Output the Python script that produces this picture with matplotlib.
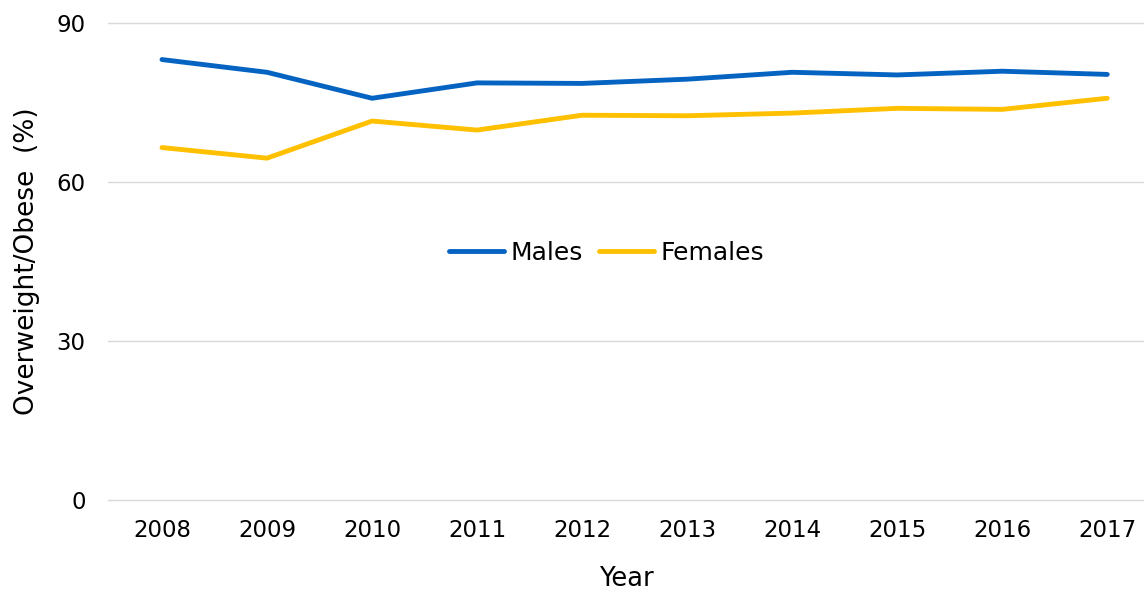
import numpy as np
import matplotlib.pyplot as plt

years = ['2008', '2009', '2010', '2011', '2012', '2013', '2014', '2015', '2016', '2017']
males = [83.1, 80.7, 75.8, 78.7, 78.6, 79.4, 80.7, 80.2, 80.9, 80.3]
females = [66.5, 64.5, 71.5, 69.8, 72.6, 72.5, 73.0, 73.9, 73.7, 75.8]
yticks = [0, 30, 60, 90]

plt.rcParams['font.family'] = 'DejaVu Sans'

fig = plt.figure(figsize=(11.44, 5.92), dpi=100)
ax = fig.add_axes([108 / 1144, 1 - 500 / 592, 1 - 108 / 1144, 477 / 592])

x = np.arange(len(years))
ax.plot(x, males, color='#0563C1', lw=3.5, solid_capstyle='round', label='Males')
ax.plot(x, females, color='#FFC000', lw=3.5, solid_capstyle='round', label='Females')

ax.set_xlim(-0.514, 9.35)
ax.set_ylim(0, 90)
ax.set_yticks(yticks)
ax.set_xticks(x)
ax.set_xticklabels(years)
ax.tick_params(axis='both', length=0, labelsize=16.5, colors='#000000')
ax.tick_params(axis='x', pad=14)
ax.tick_params(axis='y', pad=16)
ax.grid(axis='y', color='#D9D9D9', lw=1)
for gl in ax.yaxis.get_gridlines():
    gl.set_clip_on(False)
ax.set_axisbelow(True)
for sp in ax.spines.values():
    sp.set_visible(False)

ax.set_xlabel('Year', fontsize=18.5, labelpad=17)
ax.set_ylabel('Overweight/Obese  (%)', fontsize=19, labelpad=12)

ax.legend(loc='center', bbox_to_anchor=(0.481, 0.518), ncol=2, frameon=False,
          fontsize=18, handlelength=2.2, handletextpad=0.25, columnspacing=0.65)

fig.savefig('out.png', dpi=100)
